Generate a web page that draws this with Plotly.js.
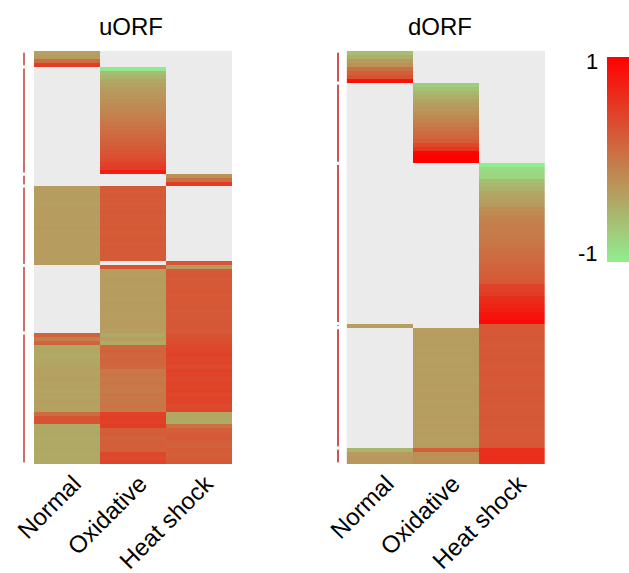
<!DOCTYPE html>
<html>
<head>
<meta charset="utf-8">
<script src="https://cdn.plot.ly/plotly-3.0.1.min.js"></script>
<style>html,body{margin:0;padding:0;background:#fff;}</style>
</head>
<body>
<div id="chart" style="width:629px;height:573px;"></div>
<script>
const N = null;
const conditions = ['Normal', 'Oxidative', 'Heat shock'];

// uORF: cluster sizes (rows) and column values (null = not detected)
const uClusters = [4, 27, 3, 20, 17, 33];
const uNormal = [
  -0.35,-0.3,0.1,0.5,
  N,N,N,N,N,N,N,N,N,N,N,N,N,N,N,N,N,N,N,N,N,N,N,N,N,N,N,
  N,N,N,
  -0.32,-0.33,-0.31,-0.32,-0.34,-0.32,-0.31,-0.33,-0.32,-0.32,-0.3,-0.33,-0.32,-0.31,-0.32,-0.33,-0.32,-0.31,-0.32,-0.32,
  N,N,N,N,N,N,N,N,N,N,N,N,N,N,N,N,N,
  0.15,-0.05,0.15,-0.42,-0.4,-0.43,-0.41,-0.4,-0.36,-0.35,-0.37,-0.34,-0.36,-0.35,-0.38,-0.35,-0.36,-0.34,-0.37,-0.35,0.1,0.3,0.3,-0.42,-0.42,-0.4,-0.43,-0.41,-0.42,-0.4,-0.43,-0.42,-0.41
];
const uOxidative = [
  N,N,N,N,
  -0.95,-0.6,-0.5,-0.42,-0.36,-0.32,-0.28,-0.24,-0.2,-0.17,-0.14,-0.1,-0.07,-0.03,0.0,0.04,0.08,0.12,0.16,0.2,0.24,0.28,0.33,0.38,0.45,0.5,0.75,
  N,N,N,
  0.24,0.23,0.25,0.24,0.22,0.24,0.25,0.23,0.24,0.24,0.26,0.23,0.24,0.25,0.23,0.24,0.24,0.22,0.24,N,
  0.3,-0.32,-0.33,-0.3,-0.32,-0.34,-0.31,-0.32,-0.33,-0.3,-0.32,-0.31,-0.33,-0.32,-0.3,-0.32,-0.33,
  -0.42,-0.33,-0.42,0.15,0.17,0.14,0.16,0.15,0.13,0.0,0.02,-0.02,0.01,0.0,-0.03,0.02,0.0,-0.01,0.03,0.0,0.45,0.48,0.45,0.5,0.2,0.22,0.18,0.2,0.21,0.19,0.4,0.38,0.42
];
const uHeatShock = [
  N,N,N,N,
  N,N,N,N,N,N,N,N,N,N,N,N,N,N,N,N,N,N,N,N,N,N,N,N,N,N,N,
  -0.2,0.05,0.5,
  N,N,N,N,N,N,N,N,N,N,N,N,N,N,N,N,N,N,N,0.28,
  -0.3,0.25,0.27,0.24,0.26,0.25,0.28,0.24,0.26,0.25,0.27,0.24,0.26,0.25,0.27,0.25,0.26,
  0.3,0.32,0.35,0.4,0.42,0.45,0.4,0.43,0.38,0.45,0.42,0.4,0.44,0.41,0.45,0.4,0.43,0.42,0.38,0.4,-0.42,-0.4,-0.42,0.05,0.2,0.22,0.25,0.2,0.18,0.23,0.2,0.22,0.25
];

// dORF
const dClusters = [8, 20, 40, 1, 30, 4];
const dNormal = [
  -0.6,-0.45,-0.3,-0.22,0.05,0.2,0.3,0.85,
  N,N,N,N,N,N,N,N,N,N,N,N,N,N,N,N,N,N,N,N,
  N,N,N,N,N,N,N,N,N,N,N,N,N,N,N,N,N,N,N,N,N,N,N,N,N,N,N,N,N,N,N,N,N,N,N,N,N,N,N,N,
  -0.33,
  N,N,N,N,N,N,N,N,N,N,N,N,N,N,N,N,N,N,N,N,N,N,N,N,N,N,N,N,N,N,
  -0.5,-0.3,-0.28,-0.28
];
const dOxidative = [
  N,N,N,N,N,N,N,N,
  -0.72,-0.62,-0.52,-0.45,-0.38,-0.32,-0.28,-0.22,-0.14,-0.08,-0.03,0.04,0.1,0.16,0.22,0.4,0.55,0.95,1.0,1.0,
  N,N,N,N,N,N,N,N,N,N,N,N,N,N,N,N,N,N,N,N,N,N,N,N,N,N,N,N,N,N,N,N,N,N,N,N,N,N,N,N,
  N,
  -0.33,-0.32,-0.34,-0.33,-0.31,-0.33,-0.32,-0.34,-0.33,-0.32,-0.33,-0.31,-0.33,-0.34,-0.32,-0.33,-0.32,-0.31,-0.33,-0.32,-0.34,-0.33,-0.32,-0.33,-0.31,-0.33,-0.32,-0.34,-0.33,-0.32,
  0.2,-0.2,-0.22,-0.2
];
const dHeatShock = [
  N,N,N,N,N,N,N,N,
  N,N,N,N,N,N,N,N,N,N,N,N,N,N,N,N,N,N,N,N,
  -1.0,-0.85,-0.8,-0.78,-0.6,-0.52,-0.48,-0.4,-0.36,-0.33,-0.3,-0.2,-0.15,-0.1,-0.08,-0.06,-0.05,-0.03,-0.02,0.0,0.02,0.05,0.08,0.1,0.12,0.15,0.18,0.2,0.22,0.25,0.45,0.45,0.5,0.62,0.65,0.7,0.75,0.82,0.85,0.9,
  0.25,
  0.26,0.25,0.27,0.25,0.24,0.26,0.25,0.27,0.26,0.24,0.25,0.27,0.25,0.26,0.24,0.25,0.27,0.26,0.25,0.24,0.26,0.25,0.27,0.25,0.26,0.24,0.25,0.26,0.25,0.27,
  0.6,0.6,0.62,0.6
];

const colorLow = 'rgb(144,238,144)';
const colorHigh = 'rgb(255,0,0)';

function toMatrix(a, b, c) {
  return a.map((v, i) => [v, b[i], c[i]]);
}

const font = 'Liberation Sans, Arial, sans-serif';

const traces = [
  {type: 'heatmap', x: conditions, z: toMatrix(uNormal, uOxidative, uHeatShock),
   xaxis: 'x', yaxis: 'y', coloraxis: 'coloraxis', hoverongaps: false},
  {type: 'heatmap', x: conditions, z: toMatrix(dNormal, dOxidative, dHeatShock),
   xaxis: 'x2', yaxis: 'y2', coloraxis: 'coloraxis', hoverongaps: false}
];

function brackets(sizes, yref, xpos, color) {
  const out = [];
  let s = 0;
  sizes.forEach(n => {
    out.push({type: 'line', xref: 'paper', yref: yref, x0: xpos, x1: xpos,
      y0: s - 0.5 + 0.4, y1: s + n - 0.5 - 0.4, line: {color: color, width: 2}});
    s += n;
  });
  return out;
}

const axisX = {
  showgrid: false, zeroline: false, showline: false, ticks: '',
  tickangle: -45, ticklabelstandoff: 0, ticklabelshift: 7,
  tickfont: {family: font, size: 24, color: '#000'}, fixedrange: true, automargin: false
};
const axisY = {autorange: 'reversed', visible: false, showgrid: false, zeroline: false, fixedrange: true};

const layout = {
  width: 629, height: 573,
  margin: {l: 34, r: 0, t: 51, b: 109},
  paper_bgcolor: '#ffffff', plot_bgcolor: '#ffffff',
  font: {family: font, color: '#000'},
  showlegend: false,
  xaxis: Object.assign({domain: [0, 0.3328], anchor: 'y'}, axisX),
  yaxis: Object.assign({domain: [0, 1], anchor: 'x'}, axisY),
  xaxis2: Object.assign({domain: [0.5255, 0.8588], anchor: 'y2'}, axisX),
  yaxis2: Object.assign({domain: [0, 1], anchor: 'x2'}, axisY),
  coloraxis: {
    cmin: -1, cmax: 1,
    colorscale: [[0, colorLow], [1, colorHigh]],
    colorbar: {
      x: 0.963, xanchor: 'left', y: 0.9855, yanchor: 'top',
      len: 205, lenmode: 'pixels', thickness: 22, thicknessmode: 'pixels',
      xpad: 0, ypad: 0, outlinewidth: 0, showticklabels: false, ticks: ''
    }
  },
  shapes: [
    {type: 'rect', xref: 'x domain', yref: 'y domain', x0: 0, x1: 1, y0: 0, y1: 1,
     fillcolor: '#ebebeb', line: {width: 0}, layer: 'below'},
    {type: 'rect', xref: 'x2 domain', yref: 'y2 domain', x0: 0, x1: 1, y0: 0, y1: 1,
     fillcolor: '#ebebeb', line: {width: 0}, layer: 'below'}
  ].concat(brackets(uClusters, 'y', -0.0168, 'rgb(214,108,108)'))
   .concat(brackets(dClusters, 'y2', 0.5109, 'rgb(204,84,84)')),
  annotations: [
    {text: 'uORF', xref: 'x domain', yref: 'paper', x: 0.49, y: 1.06, xanchor: 'center', yanchor: 'middle',
     showarrow: false, font: {family: font, size: 24, color: '#000'}},
    {text: 'dORF', xref: 'x2 domain', yref: 'paper', x: 0.47, y: 1.06, xanchor: 'center', yanchor: 'middle',
     showarrow: false, font: {family: font, size: 24, color: '#000'}},
    {text: '1', xref: 'paper', yref: 'paper', x: 0.9513, y: 0.9745, xanchor: 'right', yanchor: 'middle',
     showarrow: false, font: {family: font, size: 22, color: '#000'}},
    {text: '-1', xref: 'paper', yref: 'paper', x: 0.9513, y: 0.5085, xanchor: 'right', yanchor: 'middle',
     showarrow: false, font: {family: font, size: 22, color: '#000'}}
  ]
};

Plotly.newPlot('chart', traces, layout, {displayModeBar: false, staticPlot: true});
</script>
</body>
</html>
